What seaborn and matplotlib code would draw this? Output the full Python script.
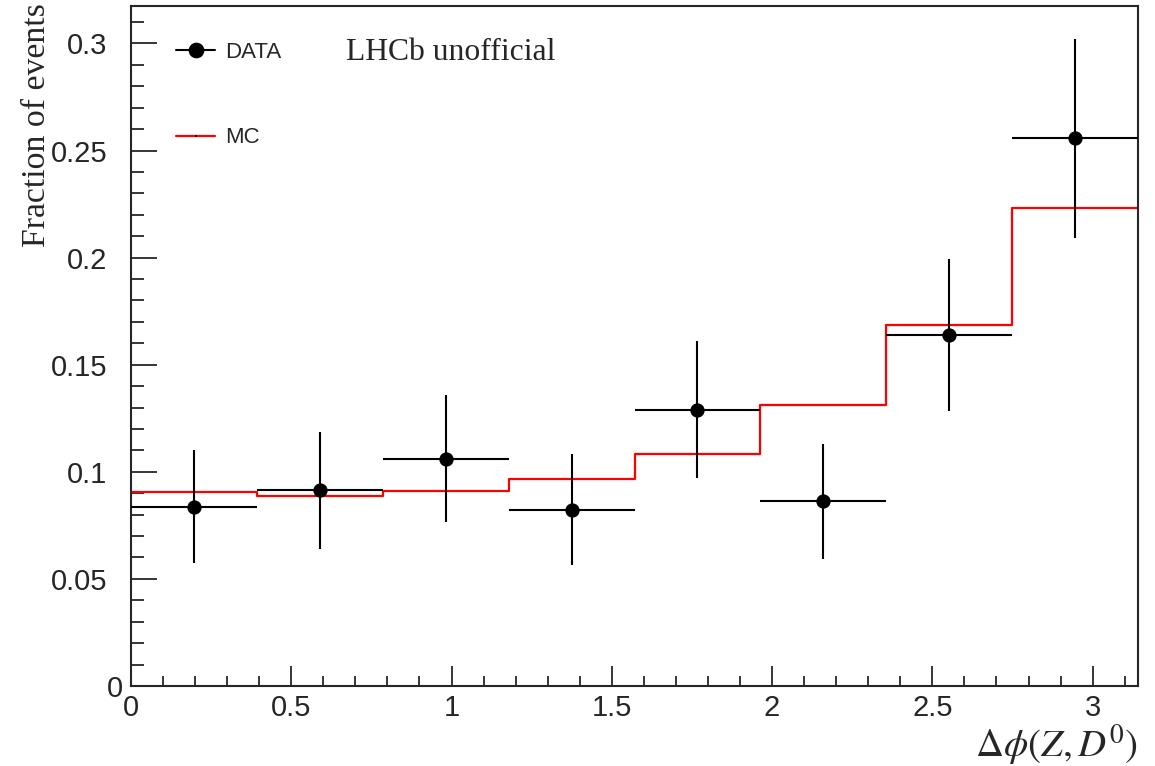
import numpy as np
import pandas as pd
import matplotlib
matplotlib.use('Agg')
import matplotlib.pyplot as plt
import seaborn as sns
from matplotlib.lines import Line2D
from matplotlib.ticker import MultipleLocator
from matplotlib.transforms import ScaledTranslation

# Data: delta phi(Z, D0) in 8 bins from 0 to pi
n_bins = 8
data_frac = [0.0836, 0.0914, 0.1059, 0.0824, 0.1291, 0.0863, 0.1638, 0.2557]
data_up = [0.1101, 0.1186, 0.1358, 0.1082, 0.1611, 0.1132, 0.1993, 0.3019]
data_down = [0.0572, 0.0642, 0.0766, 0.0564, 0.0972, 0.0593, 0.1283, 0.2091]
mc_frac = [0.0906, 0.0889, 0.0911, 0.0967, 0.1082, 0.1310, 0.1685, 0.2234]

edges = np.linspace(0, np.pi, n_bins + 1)
centers = 0.5 * (edges[:-1] + edges[1:])
half_width = 0.5 * (edges[1] - edges[0])

df = pd.DataFrame({'x': centers, 'y': data_frac})
mc_df = pd.DataFrame({'x': edges, 'y': mc_frac + [mc_frac[-1]]})

sns.set_style('ticks')
plt.rcParams['font.family'] = ['Liberation Sans', 'DejaVu Sans']
plt.rcParams['mathtext.fontset'] = 'stix'

fig = plt.figure(figsize=(11.55, 7.66), dpi=100)
ax = fig.add_axes([131 / 1155, 1 - 686 / 766, 1007 / 1155, 680 / 766])

# MC histogram as a step line
sns.lineplot(data=mc_df, x='x', y='y', drawstyle='steps-post', color='red',
             lw=1.6, ax=ax, zorder=2)

# Data points with error bars
yerr = [np.array(data_frac) - np.array(data_down), np.array(data_up) - np.array(data_frac)]
ax.errorbar(centers, data_frac, xerr=half_width, yerr=yerr, fmt='none',
            ecolor='black', elinewidth=1.5, capsize=0, zorder=3)
sns.scatterplot(data=df, x='x', y='y', color='black', s=106, edgecolor='black',
                linewidth=0, ax=ax, zorder=4)

ax.set_xlim(0, np.pi)
ax.set_ylim(0, 0.3175)
ax.set_xlabel('')
ax.set_ylabel('')

ax.xaxis.set_minor_locator(MultipleLocator(0.1))
ax.yaxis.set_minor_locator(MultipleLocator(0.01))
ax.set_xticks([0, 0.5, 1, 1.5, 2, 2.5, 3])
ax.set_xticklabels(['0', '0.5', '1', '1.5', '2', '2.5', '3'])
ax.set_yticks([0, 0.05, 0.1, 0.15, 0.2, 0.25, 0.3])
ax.set_yticklabels(['0', '0.05', '0.1', '0.15', '0.2', '0.25', '0.3'])

ax.tick_params(axis='y', which='major', direction='in', length=19, width=1.3,
               labelsize=21, pad=17)
ax.tick_params(axis='y', which='minor', direction='in', length=9.5, width=1.3)
ax.tick_params(axis='x', which='major', direction='in', length=14.5, width=1.3,
               labelsize=21, pad=6)
ax.tick_params(axis='x', which='minor', direction='in', length=7, width=1.3)
for s in ax.spines.values():
    s.set_linewidth(1.5)
    s.set_visible(True)

# ROOT puts the y "0" closer to the axis
zero_lab = ax.get_yticklabels()[0]
zero_lab.set_transform(zero_lab.get_transform() + ScaledTranslation(0.16, 0, fig.dpi_scale_trans))

handles = [
    Line2D([], [], color='black', marker='o', markersize=10.3, lw=1.5),
    (Line2D([], [], color='red', lw=1.6),
     Line2D([], [], color='black', marker='|', markersize=2, lw=0, markeredgewidth=1.2)),
]
ax.legend(handles, ['DATA', 'MC'], loc='upper left', bbox_to_anchor=(0.045, 0.947),
          frameon=False, fontsize=16, handlelength=1.75, handletextpad=0.45,
          labelspacing=2.9, borderpad=0, borderaxespad=0)

ax.text(0.2135, 0.931, 'LHCb unofficial', transform=ax.transAxes, ha='left',
        va='center', fontsize=22.8, family=['Liberation Serif', 'DejaVu Serif'])

fig.text(37 / 1155, 1 - 3 / 766, 'Fraction of events', rotation=90, ha='center',
         va='top', fontsize=24.3, family=['Liberation Serif', 'DejaVu Serif'])
fig.text(1138 / 1155, 1 - 745 / 766, r'$\Delta\phi(Z,D^0)$', ha='right',
         va='center', fontsize=28)

fig.savefig('out.png', dpi=100)
